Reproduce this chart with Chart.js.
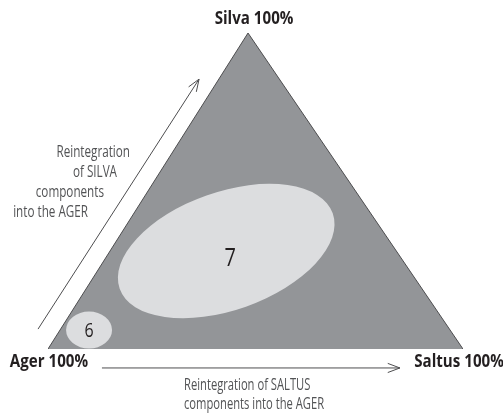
<!DOCTYPE html>
<html>
<head>
<meta charset="utf-8">
<script src="https://cdn.jsdelivr.net/npm/chart.js@4"></script>
<style>
  body { margin: 0; background: #fff; }
  .wrap { position: relative; width: 503px; height: 414px; }
</style>
</head>
<body>
<div class="wrap"><canvas id="ternary"></canvas></div>
<script>
// Triangle vertices as shares (%) of ager / saltus / silva
const vertexNames = ['Ager 100%', 'Silva 100%', 'Saltus 100%'];
const vertexAger = [100, 0, 0];
const vertexSaltus = [0, 0, 100];
const vertexSilva = [0, 100, 0];

// Zones (ellipse centres) as shares (%)
const zoneLabels = ['6', '7'];
const zoneAger = [87, 41];
const zoneSaltus = [7, 28];
const zoneSilva = [6, 31];

// Arrow captions
const silvaCaption = ['Reintegration', 'of SILVA', 'components', 'into the AGER'];
const saltusCaption = ['Reintegration of SALTUS', 'components into the AGER'];

// apex is drawn a bit left of the base midpoint
const APEX_X = 0.482;
const toXY = (ager, saltus, silva) => ({ x: (saltus + silva * APEX_X) / 100, y: silva / 100 });

const trianglePts = vertexNames.map((n, i) => toXY(vertexAger[i], vertexSaltus[i], vertexSilva[i]));
const basePts = [trianglePts[0], trianglePts[2]];
const zonePts = zoneLabels.map((n, i) => toXY(zoneAger[i], zoneSaltus[i], zoneSilva[i]));

// sizes / styles (pixels)
const FONT = '"Open Sans", "Noto Sans", sans-serif';
const zoneShape = [
  { rx: 23, ry: 18.5, rot: 0, size: 20, dx: 0, dy: 1 },
  { rx: 113, ry: 59, rot: -19.5, size: 25, dx: 4, dy: 8 }
];
const labelOffsets = [[1, 13], [6, -14], [-4, 13]];

// draws text squeezed horizontally for a condensed look
function narrowText(ctx, text, x, y, align, sx) {
  ctx.save();
  ctx.translate(x, y);
  ctx.scale(sx, 1);
  ctx.textAlign = align;
  ctx.fillText(text, 0, 0);
  ctx.restore();
}

const decorPlugin = {
  id: 'decor',
  afterDatasetsDraw(chart) {
    const ctx = chart.ctx;
    const xs = chart.scales.x, ys = chart.scales.y;
    const px = v => xs.getPixelForValue(v), py = v => ys.getPixelForValue(v);
    ctx.save();
    ctx.textBaseline = 'middle';

    // zones
    zonePts.forEach((p, i) => {
      const s = zoneShape[i];
      const cx = px(p.x), cy = py(p.y);
      ctx.beginPath();
      ctx.ellipse(cx, cy, s.rx, s.ry, s.rot * Math.PI / 180, 0, Math.PI * 2);
      ctx.fillStyle = '#dcdddf';
      ctx.fill();
      ctx.fillStyle = '#231f20';
      ctx.font = s.size + 'px ' + FONT;
      narrowText(ctx, zoneLabels[i], cx + s.dx, cy + s.dy, 'center', 0.8);
    });

    // corner labels
    ctx.font = 'bold 18px ' + FONT;
    ctx.fillStyle = '#231f20';
    vertexNames.forEach((n, i) => {
      const p = trianglePts[i];
      narrowText(ctx, n, px(p.x) + labelOffsets[i][0], py(p.y) + labelOffsets[i][1], 'center', 0.84);
    });

    // arrows
    const arrow = (x1, y1, x2, y2) => {
      ctx.beginPath();
      ctx.moveTo(x1, y1);
      ctx.lineTo(x2, y2);
      const a = Math.atan2(y2 - y1, x2 - x1);
      const L = 13, w = 0.36;
      ctx.moveTo(x2 - L * Math.cos(a - w), y2 - L * Math.sin(a - w));
      ctx.lineTo(x2, y2);
      ctx.lineTo(x2 - L * Math.cos(a + w), y2 - L * Math.sin(a + w));
      ctx.stroke();
    };
    ctx.strokeStyle = '#4d4d4f';
    ctx.lineWidth = 1;
    arrow(px(-0.024), py(0.063), px(0.364), py(0.854));
    arrow(px(0.130), py(-0.060), px(0.848), py(-0.060));

    // captions
    ctx.font = '16px ' + FONT;
    ctx.fillStyle = '#525355';
    const rights = [130, 117, 104, 88];
    silvaCaption.forEach((t, i) => narrowText(ctx, t, rights[i], 152 + i * 20.2, 'right', 0.73));
    saltusCaption.forEach((t, i) => narrowText(ctx, t, 184, 385 + i * 19, 'left', 0.7));

    ctx.restore();
  }
};

new Chart(document.getElementById('ternary'), {
  type: 'scatter',
  data: {
    datasets: [{
      data: trianglePts,
      showLine: true,
      fill: 'origin',
      backgroundColor: '#939598',
      borderColor: '#4d4d4f',
      borderWidth: 1,
      pointRadius: 0,
      tension: 0
    }, {
      data: basePts,
      showLine: true,
      fill: false,
      borderColor: '#4d4d4f',
      borderWidth: 1.5,
      pointRadius: 0
    }]
  },
  options: {
    responsive: true,
    maintainAspectRatio: false,
    animation: false,
    layout: { padding: { left: 48, right: 40, top: 33, bottom: 65 } },
    scales: {
      x: { type: 'linear', min: 0, max: 1, display: false },
      y: { type: 'linear', min: 0, max: 1, display: false }
    },
    plugins: { legend: { display: false }, tooltip: { enabled: false } }
  },
  plugins: [decorPlugin]
});
</script>
</body>
</html>
